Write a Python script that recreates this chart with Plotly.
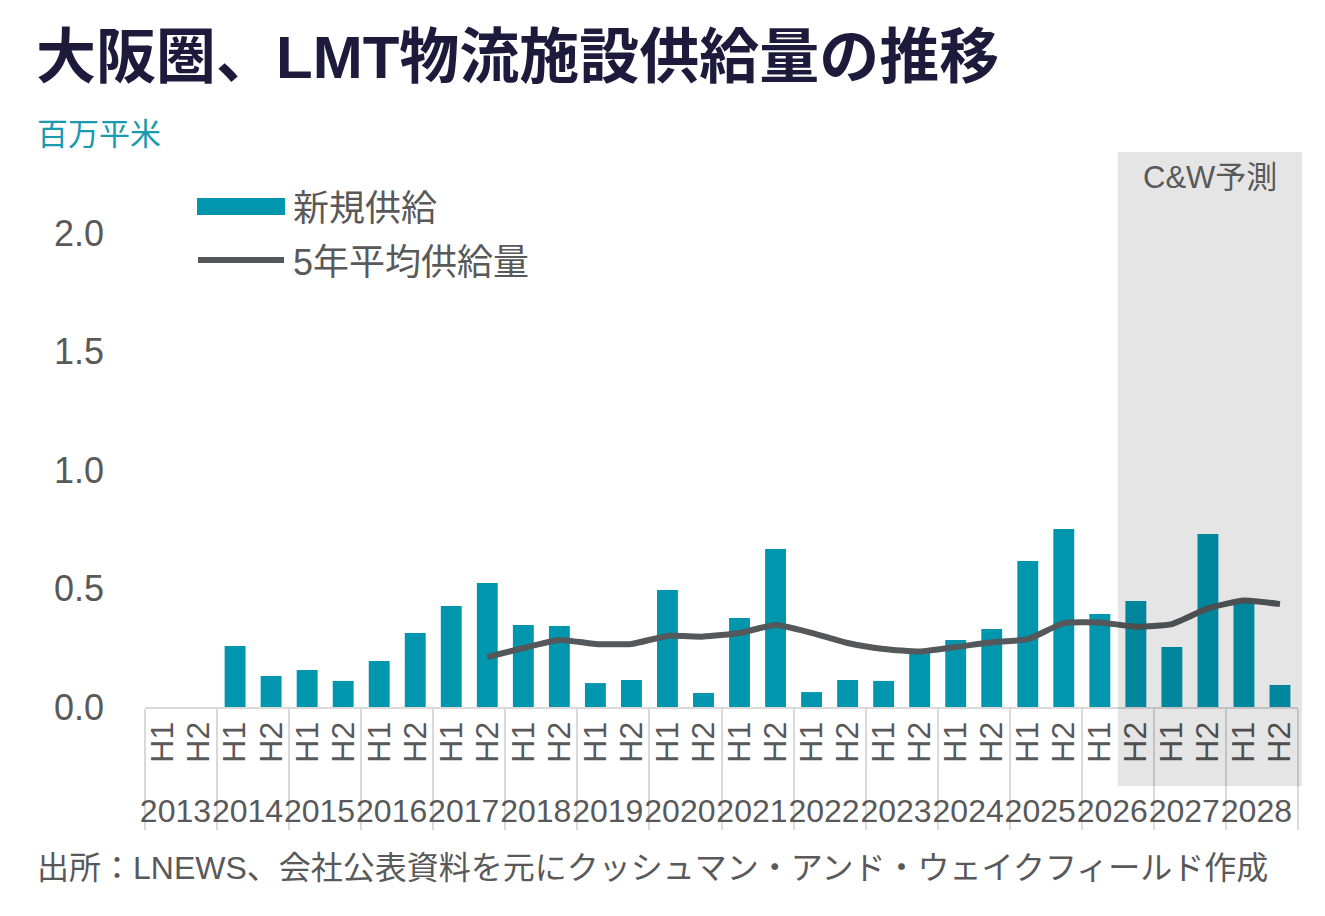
import plotly.graph_objects as go

# ---- data ----
years = [str(y) for y in range(2013, 2029)]
halves = ["H1", "H2"]
new_supply = [0, 0, 0.257, 0.131, 0.156, 0.110, 0.194, 0.312, 0.426, 0.523,
              0.346, 0.342, 0.101, 0.114, 0.494, 0.059, 0.376, 0.667, 0.063, 0.114,
              0.110, 0.230, 0.283, 0.329, 0.616, 0.751, 0.392, 0.447, 0.253, 0.730,
              0.440, 0.093]
avg5 = [None] * 9 + [0.211, 0.249, 0.283, 0.266, 0.266, 0.300, 0.297, 0.312,
                     0.346, 0.313, 0.270, 0.245, 0.234, 0.253, 0.273, 0.286,
                     0.354, 0.357, 0.339, 0.350, 0.416, 0.449, 0.434]
forecast_start = ("2026", "H2")
y_ticks = [0.0, 0.5, 1.0, 1.5, 2.0]

x_outer = [y for y in years for _ in halves]
x_inner = [h for _ in years for h in halves]
n = len(x_inner)
fc_idx = list(zip(x_outer, x_inner)).index(forecast_start)

# page offset (default body margin) compensation
OFF = 8
SW, SH = 1325, 916            # screenshot size
W, H = SW - OFF, SH - OFF     # figure size
PL, PR, PT, PB = 145, 1298, 152, 707   # plot area in screenshot px
ML, MR, MT, MB = PL - OFF, SW - PR, PT - OFF, SH - PB
PW, PH = PR - PL, PB - PT

def px_x(px):
    return (px - PL) / PW

def px_y(py):
    return (PB - py) / PH

BAR = "#0096AE"
LINE = "#54585A"
TXT = "#595959"
FONT = "Liberation Sans, Arial, Noto Sans CJK JP, sans-serif"

fig = go.Figure()
fig.add_trace(go.Bar(x=[x_outer, x_inner], y=new_supply, name="新規供給",
                     marker=dict(color=BAR, line=dict(width=0)), showlegend=False))
fig.add_trace(go.Scatter(x=[x_outer, x_inner], y=avg5, name="5年平均供給量", mode="lines",
                         line=dict(color=LINE, width=6, shape="spline", smoothing=0.5),
                         connectgaps=False, showlegend=False))

shapes = [
    # forecast shading
    dict(type="rect", xref="paper", yref="paper",
         x0=fc_idx / n, x1=px_x(1302), y0=px_y(786), y1=1.0,
         fillcolor="rgba(0,0,0,0.10)", line=dict(width=0), layer="above"),
    # legend swatches
    dict(type="rect", xref="paper", yref="paper",
         x0=px_x(197), x1=px_x(285), y0=px_y(215), y1=px_y(198),
         fillcolor=BAR, line=dict(width=0)),
    dict(type="line", xref="paper", yref="paper",
         x0=px_x(198), x1=px_x(284), y0=px_y(260), y1=px_y(260),
         line=dict(color=LINE, width=6)),
]

annotations = [
    dict(text="百万平米", xref="paper", yref="paper", x=px_x(35), y=px_y(134),
         xanchor="left", yanchor="middle", showarrow=False,
         font=dict(size=31, color="#1A9AAF", family=FONT)),
    dict(text="新規供給", xref="paper", yref="paper", x=px_x(291), y=px_y(208),
         xanchor="left", yanchor="middle", showarrow=False,
         font=dict(size=36, color=TXT, family=FONT)),
    dict(text="5年平均供給量", xref="paper", yref="paper", x=px_x(291), y=px_y(262),
         xanchor="left", yanchor="middle", showarrow=False,
         font=dict(size=36, color=TXT, family=FONT)),
    dict(text="C&W予測", xref="paper", yref="paper", x=(fc_idx / n + px_x(1302)) / 2, y=px_y(178),
         xanchor="center", yanchor="middle", showarrow=False,
         font=dict(size=31, color=TXT, family=FONT)),
    dict(text="出所：LNEWS、会社公表資料を元にクッシュマン・アンド・ウェイクフィールド作成",
         xref="paper", yref="paper", x=px_x(35), y=px_y(868),
         xanchor="left", yanchor="middle", showarrow=False,
         font=dict(size=32, color=TXT, family=FONT)),
]

fig.update_layout(
    width=W, height=H,
    margin=dict(l=ML, r=MR, t=MT, b=MB, pad=0),
    paper_bgcolor="white", plot_bgcolor="white",
    bargap=0.42,
    title=dict(text="<b>大阪圏、LMT物流施設供給量の推移</b>",
               x=(36 - OFF) / W, xanchor="left", xref="container",
               y=1 - (57 - OFF) / H, yanchor="middle", yref="container",
               font=dict(size=60, color="#1E1A3C", family=FONT)),
    font=dict(family=FONT, color=TXT),
    shapes=shapes,
    annotations=annotations,
    xaxis=dict(type="multicategory", tickangle=-90, dtick=1,
               tickfont=dict(size=32, color=TXT, family=FONT),
               showline=True, linecolor="#D9D9D9", linewidth=2,
               showgrid=False, ticks="",
               showdividers=True, dividercolor="#D9D9D9", dividerwidth=2),
    yaxis=dict(range=[0, PH / 237.0],
               tickvals=y_ticks, ticktext=[f"{v:.1f}" for v in y_ticks],
               tickfont=dict(size=36, color=TXT, family=FONT),
               showgrid=False, zeroline=False, showline=False, ticks="",
               ticklabelstandoff=40),
)

fig.write_html("out.html")
